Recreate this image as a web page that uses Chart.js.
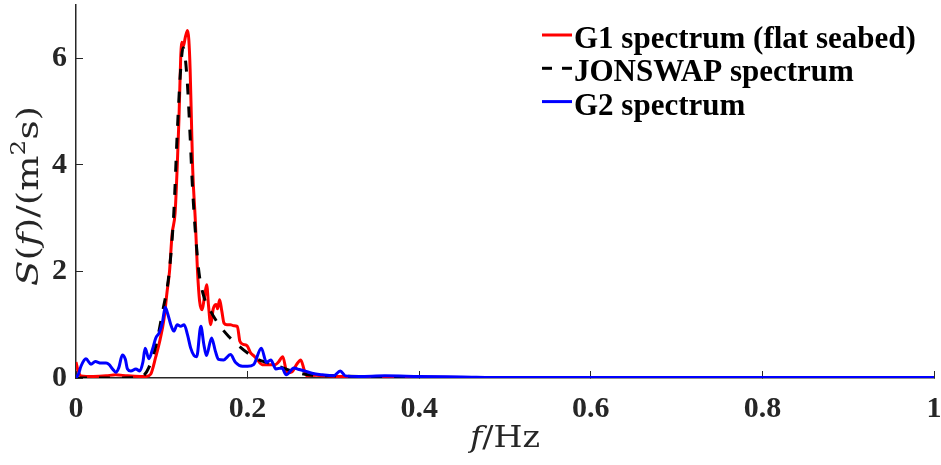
<!DOCTYPE html>
<html>
<head>
<meta charset="utf-8">
<script src="https://cdn.jsdelivr.net/npm/chart.js@4.4.1/dist/chart.umd.min.js"></script>
<style>
  html, body { margin: 0; padding: 0; background: #fff; }
  #wrap { width: 941px; height: 465px; position: relative; }
</style>
</head>
<body>
<div id="wrap"><canvas id="chart"></canvas></div>
<script>
// G1 spectrum (flat seabed), red
const g1Freq = [0, 0.002, 0.006, 0.02, 0.035, 0.046, 0.06, 0.075, 0.082, 0.087, 0.093, 0.098, 0.1025, 0.106, 0.109,
  0.112, 0.1155, 0.118, 0.12, 0.122, 0.1235, 0.125, 0.1275, 0.13, 0.1315, 0.133, 0.1345, 0.136, 0.139, 0.1415,
  0.144, 0.147, 0.1495, 0.1523, 0.1545, 0.157, 0.16, 0.1635, 0.165, 0.1674, 0.17, 0.1725, 0.176, 0.18, 0.184,
  0.188, 0.191, 0.195, 0.1996, 0.2035, 0.207, 0.211, 0.217, 0.225, 0.232, 0.236, 0.241, 0.246, 0.252, 0.257,
  0.262, 0.266, 0.269, 0.28, 0.29, 0.3, 0.33, 0.36, 0.4, 0.45, 0.5, 0.6, 0.7, 0.8, 0.9, 1.0];
const g1Vals = [0.30, 0.16, 0.04, 0.03, 0.04, 0.06, 0.04, 0.03, 0.03, 0.07, 0.40, 0.72, 1.1, 1.6, 2.0,
  2.7, 3.1, 3.98, 4.86, 6.0, 6.3, 6.22, 6.4, 6.52, 6.35, 5.8, 4.86, 3.92, 2.98, 2.04,
  1.45, 1.28, 1.5, 1.75, 1.35, 1.0, 1.3, 1.38, 1.3, 1.47, 1.25, 1.03, 1.0, 1.0, 0.98,
  0.97, 0.69, 0.63, 0.6, 0.47, 0.42, 0.35, 0.25, 0.25, 0.25, 0.3, 0.40, 0.10, 0.12, 0.25,
  0.34, 0.15, 0.04, 0.05, 0.04, 0.03, 0.03, 0.02, 0.015, 0.01, 0.01, 0.005, 0.005, 0.003, 0.003, 0.003];

// JONSWAP target spectrum, black dashed
const jsFreq = [0, 0.05, 0.07, 0.0775, 0.085, 0.093, 0.101, 0.1085, 0.114, 0.118, 0.122, 0.1248, 0.127, 0.13,
  0.133, 0.1357, 0.1395, 0.1434, 0.149, 0.157, 0.1667, 0.178, 0.19, 0.2, 0.213, 0.225, 0.236, 0.252, 0.267,
  0.28, 0.3, 0.35, 0.4, 0.5, 0.6, 0.8, 1.0];
const jsVals = [0, 0, 0.005, 0.03, 0.2, 0.6, 1.25, 1.97, 3.1, 4.6, 5.8, 6.2, 6.05, 5.48,
  4.54, 3.6, 2.66, 1.97, 1.53, 1.25, 1.0, 0.78, 0.6, 0.47, 0.34, 0.28, 0.22, 0.13, 0.07,
  0.05, 0.04, 0.02, 0.01, 0.004, 0.002, 0.001, 0];

// G2 spectrum, blue
const g2Freq = [0, 0.003, 0.0058, 0.0116, 0.0174, 0.0225, 0.029, 0.035, 0.0387, 0.0426, 0.0465, 0.05, 0.054,
  0.0575, 0.06, 0.064, 0.0698, 0.0744, 0.078, 0.0806, 0.085, 0.089, 0.093, 0.097, 0.1008, 0.104, 0.1066,
  0.1105, 0.114, 0.118, 0.122, 0.126, 0.13, 0.1337, 0.1376, 0.1407, 0.1455, 0.149, 0.152, 0.158, 0.1625,
  0.166, 0.172, 0.18, 0.186, 0.194, 0.2, 0.207, 0.216, 0.222, 0.227, 0.233, 0.24, 0.245, 0.254, 0.26,
  0.267, 0.275, 0.287, 0.3, 0.308, 0.314, 0.33, 0.36, 0.4, 0.45, 0.5, 0.6, 0.8, 1.0];
const g2Vals = [0, 0.08, 0.22, 0.36, 0.26, 0.31, 0.28, 0.28, 0.25, 0.17, 0.11, 0.2, 0.43,
  0.35, 0.17, 0.13, 0.17, 0.13, 0.3, 0.56, 0.36, 0.53, 0.75, 0.85, 1.05, 1.33, 1.22,
  1.0, 0.88, 1.0, 0.97, 1.0, 0.81, 0.56, 0.42, 0.40, 0.97, 0.63, 0.42, 0.75, 0.5,
  0.35, 0.34, 0.44, 0.29, 0.22, 0.22, 0.25, 0.56, 0.29, 0.34, 0.17, 0.19, 0.06, 0.19, 0.16,
  0.13, 0.09, 0.06, 0.04, 0.13, 0.04, 0.03, 0.04, 0.03, 0.02, 0.01, 0.01, 0.01, 0.01];

const xTicks = [0, 0.2, 0.4, 0.6, 0.8, 1];
const yTicks = [0, 2, 4, 6];

const axisColor = '#262626';
const tickFont = { family: '"Liberation Serif", "Times New Roman", serif', size: 30, weight: 'bold' };

function toPoints(freqs, vals) {
  return freqs.map((f, i) => ({ x: f, y: vals[i] }));
}

// draws a string made of several font runs, centred on the current origin,
// stretched along the text direction to the wanted length
function drawRuns(ctx, runs, length) {
  let total = 0;
  runs.forEach(r => { ctx.font = r.font; r.w = ctx.measureText(r.text).width; total += r.w; });
  ctx.scale(length / total, 1);
  let x = -total / 2;
  runs.forEach(r => {
    ctx.font = r.font;
    ctx.fillText(r.text, x, r.dy || 0);
    x += r.w;
  });
}

const axisTitles = {
  id: 'axisTitles',
  afterDraw(chart) {
    const ctx = chart.ctx;
    const area = chart.chartArea;
    const fam = '"DejaVu Serif", serif';
    const up = '30px ' + fam;
    const it = 'italic 30px ' + fam;
    const sup = '20px ' + fam;
    ctx.save();
    ctx.fillStyle = axisColor;
    ctx.textBaseline = 'alphabetic';
    ctx.textAlign = 'left';

    ctx.save();
    ctx.translate((area.left + area.right) / 2, 447);
    drawRuns(ctx, [{ text: 'f', font: it }, { text: '/Hz', font: up }], 70);
    ctx.restore();

    ctx.save();
    ctx.translate(38, 196);
    ctx.rotate(-Math.PI / 2);
    drawRuns(ctx, [
      { text: 'S', font: it }, { text: '(', font: up }, { text: 'f', font: it },
      { text: ')/(m', font: up }, { text: '2', font: sup, dy: -13 }, { text: 's)', font: up }
    ], 180);
    ctx.restore();
    ctx.restore();
  }
};

const lineLegend = {
  id: 'lineLegend',
  afterDraw(chart) {
    const ctx = chart.ctx;
    const x0 = 542;
    ctx.save();
    ctx.font = 'bold 31px "Liberation Serif", serif';
    ctx.textBaseline = 'alphabetic';
    ctx.textAlign = 'left';
    chart.data.datasets.forEach((ds, i) => {
      const base = 48 + i * 33.3;
      const ly = base - 13;
      ctx.strokeStyle = ds.borderColor;
      ctx.lineWidth = 3;
      ctx.setLineDash(ds.borderDash ? [10, 10] : []);
      ctx.beginPath();
      ctx.moveTo(x0, ly);
      ctx.lineTo(x0 + 30, ly);
      ctx.stroke();
      ctx.setLineDash([]);
      ctx.fillStyle = '#000';
      ctx.fillText(ds.label, x0 + 32, base);
    });
    ctx.restore();
  }
};

new Chart(document.getElementById('chart'), {
  type: 'line',
  data: {
    datasets: [
      {
        label: 'G1 spectrum (flat seabed)',
        data: toPoints(g1Freq, g1Vals),
        borderColor: '#ff0000',
        borderWidth: 3,
        order: 2
      },
      {
        label: 'JONSWAP spectrum',
        data: toPoints(jsFreq, jsVals),
        borderColor: '#000000',
        borderWidth: 3,
        borderDash: [11, 12],
        order: 1
      },
      {
        label: 'G2 spectrum',
        data: toPoints(g2Freq, g2Vals),
        borderColor: '#0000ff',
        borderWidth: 3,
        order: 0
      }
    ]
  },
  options: {
    responsive: true,
    maintainAspectRatio: false,
    animation: false,
    layout: { padding: { top: 5, right: 7, left: 0, bottom: 0 } },
    elements: {
      point: { radius: 0 },
      line: { cubicInterpolationMode: 'monotone', fill: false }
    },
    plugins: {
      legend: { display: false },
      tooltip: { enabled: false }
    },
    scales: {
      x: {
        type: 'linear',
        min: 0,
        max: 1,
        afterBuildTicks: s => { s.ticks = xTicks.map(v => ({ value: v })); },
        afterFit: s => { s.height = 87; s.paddingLeft = 0; s.paddingRight = 0; },
        ticks: { color: axisColor, font: tickFont, padding: 20, maxRotation: 0, callback: v => String(v) },
        grid: { drawOnChartArea: false, drawTicks: true, tickLength: -7, color: axisColor },
        border: { display: true, color: axisColor, width: 1.5 }
      },
      y: {
        type: 'linear',
        min: 0,
        max: 7,
        afterBuildTicks: s => { s.ticks = yTicks.map(v => ({ value: v })); },
        afterFit: s => { s.width = 76; s.paddingTop = 0; s.paddingBottom = 0; },
        ticks: { color: axisColor, font: tickFont, padding: 16, callback: v => String(v) },
        grid: { drawOnChartArea: false, drawTicks: true, tickLength: -7, color: axisColor },
        border: { display: true, color: axisColor, width: 1.5 }
      }
    }
  },
  plugins: [axisTitles, lineLegend]
});
</script>
</body>
</html>
